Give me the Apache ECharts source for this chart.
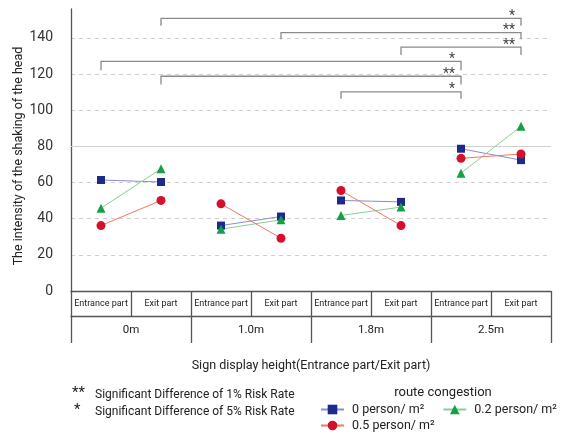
<!DOCTYPE html>
<html>
<head>
<meta charset="utf-8">
<script src="https://cdn.jsdelivr.net/npm/echarts@6/dist/echarts.min.js"></script>
<style>html,body{margin:0;padding:0;background:#fff}#c{width:561px;height:432px}</style>
</head>
<body>
<div id="c"></div>
<script>
// ---- data ----
const parts = ['Entrance part','Exit part','Entrance part','Exit part','Entrance part','Exit part','Entrance part','Exit part'];
const heights = ['0m','1.0m','1.8m','2.5m'];
const yTicks = [0,20,40,60,80,100,120,140];
const seriesNames = ['0 person/ m²','0.2 person/ m²','0.5 person/ m²'];
const p0  = [61.4,60.3,36.2,41.2,50.1,49.3,78.7,72.4];
const p02 = [45.8,67.6,34.2,39.4,41.8,46.4,65.2,91.1];
const p05 = [36.2,50.1,48.2,29.2,55.6,36.2,73.4,75.8];
// significance brackets: from category index, to category index, bracket top value, leg end value, mark
const bracketFrom = [1,3,5,0,1,4];
const bracketTo   = [7,7,7,6,6,6];
const bracketTop  = [150.8,142.9,134.9,127.0,118.8,110.2];
const bracketLeg  = [146.7,139.2,130.5,122.1,114.2,106.3];
const bracketMark = ['*','**','**','*','**','*'];

const FONT = 'Roboto';
const levels = [
  {name: seriesNames[0], data: p0,  symbol: 'rect',     size: 8, mc: '#1c2a8c', lc: '#8c8cd2'},
  {name: seriesNames[1], data: p02, symbol: 'triangle', size: 9, mc: '#16a046', lc: '#86d096'},
  {name: seriesNames[2], data: p05, symbol: 'circle',   size: 9, mc: '#d4102c', lc: '#ec7a5c'}
];

const series = [];
levels.forEach(lv => {
  heights.forEach((h, g) => {
    const d = lv.data.map((v, i) => (i === 2*g || i === 2*g+1) ? v : '-');
    series.push({
      type: 'line', name: lv.name, data: d, connectNulls: false,
      symbol: lv.symbol, symbolSize: lv.size, showAllSymbol: true,
      itemStyle: {color: lv.mc},
      lineStyle: {color: lv.lc, width: 1},
      emphasis: {disabled: true}, z: 3
    });
  });
});
// solid reference line at 80
series[0].markLine = {
  silent: true, symbol: 'none', label: {show: false},
  lineStyle: {color: '#d0d0d0', type: 'solid', width: 1},
  data: [{yAxis: 80}], z: 1
};
series.push({
  type: 'custom', name: 'brackets', xAxisIndex: 0, yAxisIndex: 0, silent: true, clip: false, z: 2,
  encode: {x: [0,1], y: [2,3]},
  data: bracketFrom.map((f, i) => [f, bracketTo[i], bracketTop[i], bracketLeg[i]]),
  renderItem: function (params, api) {
    const a = api.coord([api.value(0), api.value(2)]);
    const b = api.coord([api.value(1), api.value(2)]);
    const leg = api.coord([api.value(0), api.value(3)])[1];
    return {
      type: 'group',
      children: [
        {type: 'polyline', shape: {points: [[a[0], leg], [a[0], a[1]], [b[0], a[1]], [b[0], leg]]},
         style: {stroke: '#8a8a8a', fill: null, lineWidth: 1.3}},
        {type: 'text', x: b[0] - 6, y: a[1] - 2,
         style: {text: bracketMark[params.dataIndex], align: 'right', verticalAlign: 'middle',
                 fill: '#444', font: '14px ' + FONT}}
      ]
    };
  }
});

const chart = echarts.init(document.getElementById('c'), null, {renderer: 'canvas'});
chart.setOption({
  animation: false,
  backgroundColor: '#fff',
  grid: {left: 71, right: 10, top: 9, bottom: 141, containLabel: false},
  xAxis: [
    {type: 'category', data: parts, boundaryGap: true, position: 'bottom',
     axisLine: {lineStyle: {color: '#555', width: 1.3}},
     axisTick: {show: true, interval: 0, length: 25, lineStyle: {color: '#555', width: 1.3}},
     axisLabel: {interval: 0, margin: 8, fontSize: 9, color: '#222', fontFamily: FONT},
     splitLine: {show: false}},
    {type: 'category', data: heights, boundaryGap: true, position: 'bottom', offset: 25,
     axisLine: {lineStyle: {color: '#555', width: 1.3}},
     axisTick: {show: true, interval: 0, length: 27, lineStyle: {color: '#555', width: 1.3}},
     axisLabel: {interval: 0, margin: 8, fontSize: 11.5, color: '#222', fontFamily: FONT},
     splitLine: {show: false}}
  ],
  yAxis: {
    type: 'value', min: 0, max: 156, interval: 20,
    axisLine: {show: true, lineStyle: {color: '#555', width: 1.3}},
    axisTick: {show: false},
    axisLabel: {margin: 18, fontSize: 14, color: '#333', fontFamily: FONT, showMaxLabel: false,
                formatter: v => (yTicks.indexOf(v) >= 0 ? String(v) : '')},
    splitLine: {show: true, showMaxLine: false, showMinLine: false,
                lineStyle: {color: '#cfcfcf', type: [4, 4], width: 1}}
  },
  legend: [
    {data: [seriesNames[0], seriesNames[1]], left: 320, top: 403, width: 300, padding: 0, orient: 'horizontal',
     itemWidth: 23, itemHeight: 12, itemGap: 18, selectedMode: false,
     textStyle: {fontSize: 12.5, color: '#222', fontFamily: FONT, padding: [0,0,0,3]}},
    {data: [seriesNames[2]], left: 320, top: 419, width: 200, padding: 0, orient: 'horizontal',
     itemWidth: 23, itemHeight: 12, selectedMode: false,
     textStyle: {fontSize: 12.5, color: '#222', fontFamily: FONT, padding: [0,0,0,3]}}
  ],
  graphic: [
    {type: 'text', x: 19, y: 156, rotation: Math.PI / 2, silent: true,
     style: {text: 'The intensity of the shaking of the head', align: 'center', verticalAlign: 'middle',
             fill: '#222', font: '12.5px ' + FONT}},
    {type: 'text', x: 311, y: 366, silent: true,
     style: {text: 'Sign display height(Entrance part/Exit part)', align: 'center', verticalAlign: 'middle',
             fill: '#222', font: '12.5px ' + FONT}},
    {type: 'text', x: 72, y: 393, silent: true,
     style: {text: '**', align: 'left', verticalAlign: 'middle', fill: '#222', font: '15px ' + FONT}},
    {type: 'text', x: 95, y: 395, silent: true,
     style: {text: 'Significant Difference of 1% Risk Rate', align: 'left', verticalAlign: 'middle', fill: '#222', font: '12px ' + FONT}},
    {type: 'text', x: 74, y: 410, silent: true,
     style: {text: '*', align: 'left', verticalAlign: 'middle', fill: '#222', font: '15px ' + FONT}},
    {type: 'text', x: 95, y: 412, silent: true,
     style: {text: 'Significant Difference of 5% Risk Rate', align: 'left', verticalAlign: 'middle', fill: '#222', font: '12px ' + FONT}},
    {type: 'text', x: 443, y: 393, silent: true,
     style: {text: 'route congestion', align: 'center', verticalAlign: 'middle', fill: '#222', font: '13px ' + FONT}}
  ],
  series: series
});
</script>
</body>
</html>
